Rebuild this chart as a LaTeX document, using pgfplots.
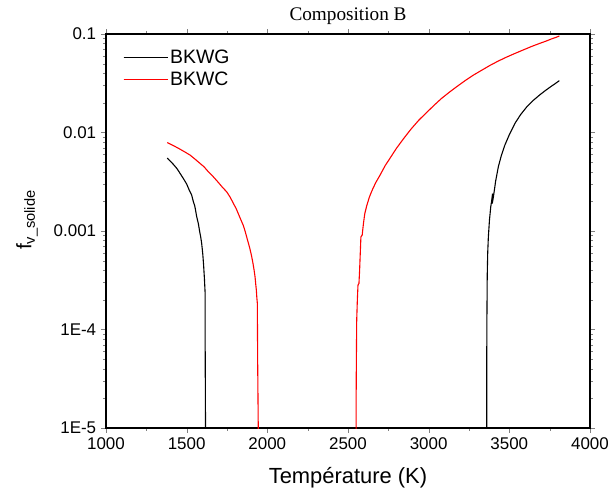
\documentclass[border=0pt]{standalone}
\usepackage{pgfplots}
\pgfplotsset{compat=1.18}
\usepackage{fontspec}
\setmainfont{Liberation Sans}
\newfontfamily\timesfont{Liberation Serif}
\begin{document}
\begin{tikzpicture}
\path[use as bounding box] (-106bp,-61bp) rectangle (502bp,428bp);
\begin{semilogyaxis}[
  scale only axis, width=484bp, height=394bp,
  xmin=1000, xmax=4000, ymin=1e-5, ymax=0.1,
  xtick={1000,1500,2000,2500,3000,3500,4000},
  minor x tick num=1,
  ytick={1e-5,1e-4,1e-3,1e-2,1e-1},
  line width=1.1bp,
  tick align=outside,
  major tick length=5bp, minor tick length=3bp,
  xticklabels={1000,1500,2000,2500,3000,3500,4000},
  yticklabels={1E-5,1E-4,0.001,0.01,0.1},
  /pgf/number format/assume math mode=true,
  ticklabel style={font=\fontsize{17}{19}\selectfont},
  xticklabel style={yshift=-1bp},
  yticklabel style={xshift=-1bp},
  xlabel={Température (K)},
  xlabel style={font=\fontsize{22}{24}\selectfont, at={(axis description cs:0.5,-0.142)}, anchor=base},
  ylabel={f\textsubscript{v\_solide}},
  ylabel style={font=\fontsize{21}{23}\selectfont, at={(axis description cs:-0.163,0.528)}, anchor=center},
  title={\timesfont Composition B},
  title style={font=\fontsize{19.3}{21}\selectfont, at={(axis description cs:0.5,1)}, anchor=base, yshift=8bp},
  legend style={draw=none, fill=none, at={(axis description cs:0.028,0.97)}, anchor=north west,
    font=\fontsize{19.5}{22}\selectfont, row sep=3bp},
  legend cell align=left,
  legend image code/.code={\draw[#1, line width=1.1bp] (0bp,0bp) -- (39bp,0bp); \path (0bp,0bp) -- (44bp,0bp);},
]
\addplot[black, line width=1.1bp] coordinates {
(1380,0.0055) (1400,0.0051) (1420,0.0047) (1440,0.0043) (1459,0.00385) (1480,0.0034) (1500,0.0030) (1516,0.0026) (1531,0.00232) (1541,0.0020) (1550,0.0018) (1556,0.0016) (1562,0.0014) (1572,0.0012) (1580,0.00100) (1587,0.00087) (1593,0.00075) (1600,0.00058) (1605,0.00045) (1610,0.00033) (1614,0.000242) (1615,0.00005) (1617,0.000009)
};
\addlegendentry{BKWG}
\addplot[red, line width=1.1bp] coordinates {
(1380,0.0079) (1415,0.0074) (1450,0.0069) (1485,0.0064) (1521,0.0059) (1550,0.0054) (1580,0.0049) (1607,0.0045) (1634,0.0040) (1662,0.0036) (1690,0.0032) (1720,0.0028) (1748,0.0025) (1770,0.0022) (1790,0.0019) (1806,0.0017) (1820,0.0015) (1836,0.0013) (1850,0.00115) (1862,0.00100) (1872,0.00087) (1882,0.00076) (1890,0.00068) (1897,0.00061) (1903,0.00055) (1910,0.00048) (1915,0.00043) (1920,0.00038) (1924,0.00034) (1928,0.00029) (1932,0.00025) (1935,0.00021) (1938,0.000185) (1940,0.00005) (1944,0.000009)
};
\addlegendentry{BKWC}
\addplot[red, line width=1.1bp, forget plot] coordinates {
(2550,0.000009) (2551,0.00003) (2553,0.00008) (2554,0.000125) (2558,0.00020) (2562,0.000283) (2568,0.000294) (2572,0.00040) (2576,0.00059) (2580,0.00087) (2588,0.00091) (2596,0.0012) (2604,0.0015) (2616,0.0018) (2632,0.0022) (2650,0.0026) (2672,0.0031) (2699,0.0037) (2730,0.0046) (2761,0.0055) (2800,0.0069) (2843,0.0086) (2890,0.0108) (2940,0.0134) (2988,0.0160) (3035,0.0190) (3080,0.0222) (3130,0.0258) (3174,0.0292) (3230,0.0340) (3280,0.0385) (3330,0.0430) (3380,0.0480) (3430,0.0530) (3480,0.0580) (3530,0.0630) (3587,0.0690) (3640,0.0750) (3690,0.0805) (3730,0.0850) (3760,0.0890) (3790,0.0925) (3810,0.0955)
};
\addplot[black, line width=1.1bp, forget plot] coordinates {
(3360,0.000009) (3360,0.00005) (3361,0.000125) (3363,0.00035) (3366,0.00060) (3370,0.00087) (3377,0.0013) (3385,0.00177) (3390,0.0020) (3396,0.0024) (3394,0.0019) (3401,0.0022) (3415,0.0032) (3432,0.0045) (3450,0.0058) (3473,0.0075) (3500,0.0095) (3535,0.0124) (3570,0.0152) (3608,0.0182) (3650,0.0213) (3690,0.0242) (3720,0.0264) (3750,0.0287) (3780,0.0310) (3810,0.0336)
};
\end{semilogyaxis}
\end{tikzpicture}
\end{document}
